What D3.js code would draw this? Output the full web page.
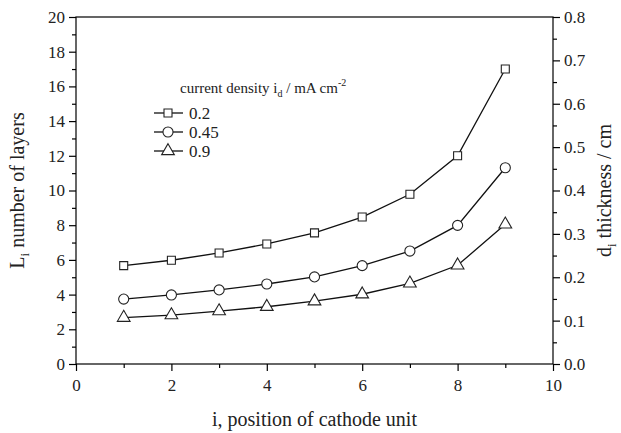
<!DOCTYPE html>
<html>
<head>
<meta charset="utf-8">
<script src="https://cdn.jsdelivr.net/npm/d3@7"></script>
<style>
  body { margin: 0; background: #fff; }
  svg { font-family: "Liberation Serif", "DejaVu Serif", serif; }
</style>
</head>
<body>
<div id="chart"></div>
<script>
const positions = [1, 2, 3, 4, 5, 6, 7, 8, 9]
const density02 = [5.67, 5.98, 6.4, 6.92, 7.56, 8.47, 9.78, 12.0, 17.0]
const density045 = [3.74, 3.98, 4.27, 4.61, 5.02, 5.67, 6.51, 7.99, 11.31]
const density09 = [2.67, 2.82, 3.05, 3.3, 3.62, 4.02, 4.65, 5.69, 8.05]
const seriesNames = ['0.2', '0.45', '0.9']
const xTicks = [0, 2, 4, 6, 8, 10]
const yTicks = [0, 2, 4, 6, 8, 10, 12, 14, 16, 18, 20]
const y2Ticks = [0, 0.1, 0.2, 0.3, 0.4, 0.5, 0.6, 0.7, 0.8]

const MARGIN = { TOP: 17, BOTTOM: 69, LEFT: 76, RIGHT: 68 }
const WIDTH = 621 - MARGIN.LEFT - MARGIN.RIGHT
const HEIGHT = 433 - MARGIN.TOP - MARGIN.BOTTOM

const svg = d3.select('#chart')
  .append('svg')
    .attr('width', 621)
    .attr('height', 433)
  .append('g')
    .attr('transform', `translate(${MARGIN.LEFT}, ${MARGIN.TOP})`)

const x = d3.scaleLinear().domain([0, 10]).range([0, WIDTH])
const y = d3.scaleLinear().domain([0, 20]).range([HEIGHT, 0])
const y2 = d3.scaleLinear().domain([0, 0.8]).range([HEIGHT, 0])

// frame
svg.append('rect')
  .attr('width', WIDTH)
  .attr('height', HEIGHT)
  .attr('fill', 'none')
  .attr('stroke', '#000')
  .attr('stroke-width', 1.2)

const styleAxis = g => {
  g.select('.domain').remove()
  g.selectAll('line').attr('stroke', '#000').attr('stroke-width', 1.2)
  g.selectAll('text').attr('font-size', 17).attr('fill', '#222')
    .style('font-family', '"Liberation Serif", serif')
}

// minor ticks first
svg.append('g')
  .attr('transform', `translate(0, ${HEIGHT})`)
  .call(d3.axisBottom(x).tickValues(d3.range(1, 10, 2)).tickSize(4).tickFormat(''))
  .call(styleAxis)
svg.append('g')
  .call(d3.axisLeft(y).tickValues(d3.range(1, 20, 2)).tickSize(4).tickFormat(''))
  .call(styleAxis)
svg.append('g')
  .attr('transform', `translate(${WIDTH}, 0)`)
  .call(d3.axisRight(y2).tickValues(d3.range(0.05, 0.8, 0.1)).tickSize(4).tickFormat(''))
  .call(styleAxis)

svg.append('g')
  .attr('transform', `translate(0, ${HEIGHT})`)
  .call(d3.axisBottom(x).tickValues(xTicks).tickSize(7).tickPadding(8))
  .call(styleAxis)
svg.append('g')
  .call(d3.axisLeft(y).tickValues(yTicks).tickSize(7).tickPadding(4))
  .call(styleAxis)
svg.append('g')
  .attr('transform', `translate(${WIDTH}, 0)`)
  .call(d3.axisRight(y2).tickValues(y2Ticks).tickSize(7).tickPadding(4).tickFormat(d3.format('.1f')))
  .call(styleAxis)

// axis titles
svg.append('text')
  .attr('x', WIDTH / 2)
  .attr('y', HEIGHT + 62)
  .attr('text-anchor', 'middle')
  .attr('font-size', 20)
  .attr('fill', '#222')
  .text('i, position of cathode unit')

const yLabel = svg.append('text')
  .attr('transform', `translate(-52, ${HEIGHT / 2}) rotate(-90)`)
  .attr('text-anchor', 'middle')
  .attr('font-size', 20)
  .attr('fill', '#222')
yLabel.append('tspan').text('L')
yLabel.append('tspan').attr('font-size', 13).attr('dy', 5).text('i')
yLabel.append('tspan').attr('dy', -5).text(' number of layers')

const y2Label = svg.append('text')
  .attr('transform', `translate(${WIDTH + 58}, ${HEIGHT / 2}) rotate(-90)`)
  .attr('text-anchor', 'middle')
  .attr('font-size', 20)
  .attr('fill', '#222')
y2Label.append('tspan').text('d')
y2Label.append('tspan').attr('font-size', 13).attr('dy', 5).text('i')
y2Label.append('tspan').attr('dy', -5).text(' thickness / cm')

// series
const series = [density02, density045, density09].map((vals, k) => ({
  name: seriesNames[k],
  shape: [d3.symbolSquare, d3.symbolCircle, d3.symbolTriangle][k],
  size: [64, 80, 70][k],
  values: positions.map((p, i) => ({ p, v: vals[i] }))
}))

const line = d3.line().x(d => x(d.p)).y(d => y(d.v))

series.forEach(s => {
  svg.append('path')
    .datum(s.values)
    .attr('d', line)
    .attr('fill', 'none')
    .attr('stroke', '#111')
    .attr('stroke-width', 1.3)

  svg.selectAll(null)
    .data(s.values)
    .enter()
    .append('path')
      .attr('d', d3.symbol().type(s.shape).size(s.size))
      .attr('transform', d => `translate(${x(d.p)}, ${y(d.v)})`)
      .attr('fill', '#fff')
      .attr('stroke', '#222')
      .attr('stroke-width', 1.1)
})

// legend
const legend = svg.append('g').attr('transform', 'translate(104, 76)')

const lt = legend.append('text')
  .attr('font-size', 15)
  .attr('fill', '#222')
lt.append('tspan').text('current density i')
lt.append('tspan').attr('font-size', 10).attr('dy', 4).text('d')
lt.append('tspan').attr('dy', -4).text(' / mA cm')
lt.append('tspan').attr('font-size', 10).attr('dy', -7).text('-2')

series.forEach((s, k) => {
  const row = legend.append('g').attr('transform', `translate(0, ${20 + k * 19})`)
  row.append('line')
    .attr('x1', -26).attr('x2', 3)
    .attr('stroke', '#111').attr('stroke-width', 1.3)
  row.append('path')
    .attr('d', d3.symbol().type(s.shape).size(s.size))
    .attr('transform', 'translate(-12, 0)')
    .attr('fill', '#fff')
    .attr('stroke', '#222')
    .attr('stroke-width', 1.1)
  row.append('text')
    .attr('x', 9)
    .attr('dy', '0.35em')
    .attr('font-size', 17)
    .attr('fill', '#222')
    .text(s.name)
})
</script>
</body>
</html>
